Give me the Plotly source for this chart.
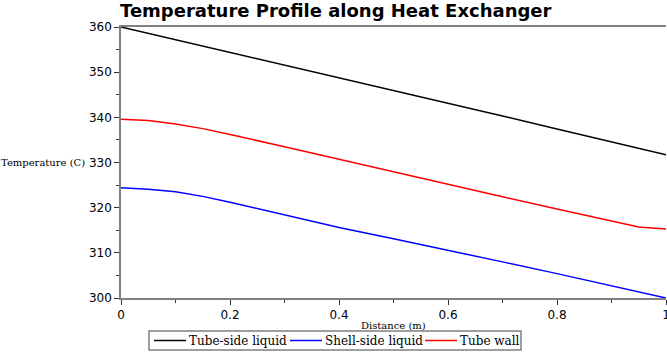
import plotly.graph_objects as go

distance = [0.0, 0.05, 0.1, 0.15, 0.2, 0.25, 0.3, 0.4, 0.5, 0.6, 0.7, 0.8, 0.9, 0.95, 1.0]
tube_side = [360.0, 358.6, 357.2, 355.8, 354.4, 353.0, 351.6, 348.8, 346.0, 343.1, 340.3, 337.4, 334.6, 333.1, 331.7]
shell_side = [324.4, 324.1, 323.5, 322.5, 321.2, 319.8, 318.3, 315.6, 313.1, 310.6, 308.0, 305.4, 302.7, 301.4, 300.0]
tube_wall = [339.6, 339.3, 338.5, 337.5, 336.2, 334.9, 333.5, 330.7, 327.9, 325.1, 322.4, 319.7, 317.0, 315.7, 315.3]
x_ticks = [0, 0.2, 0.4, 0.6, 0.8, 1]
x_ticklabels = ["0", "0.2", "0.4", "0.6", "0.8", "1"]
series_names = ["Tube-side liquid", "Shell-side liquid", "Tube wall"]
series_colors = ["black", "blue", "red"]
series_values = [tube_side, shell_side, tube_wall]

# plot-area geometry in pixels (for placing the hand-drawn legend box)
L, R, T, B, W, H = 121, 1, 27, 54, 667, 352
PW, PH = W - L - R, H - T - B
def px(x): return (x - L) / PW
def py(y): return (H - B - y) / PH

fig = go.Figure()
for name, vals, col in zip(series_names, series_values, series_colors):
    fig.add_trace(go.Scatter(x=distance, y=vals, mode="lines", name=name,
                             line=dict(color=col, width=1.5), showlegend=False))

axis_common = dict(showgrid=False, zeroline=False, showline=True, linecolor="#808080",
                   linewidth=1.5, ticks="outside", ticklen=5, tickwidth=1, tickcolor="#333",
                   automargin=False, ticklabeloverflow="allow",
                   tickfont=dict(family="DejaVu Sans", size=12, color="black"))

fig.update_xaxes(range=[0, 1], tickvals=x_ticks, ticktext=x_ticklabels, mirror=True,
                 minor=dict(dtick=0.1, ticks="outside", ticklen=3, tickcolor="#333"),
                 **axis_common)
fig.update_yaxes(range=[300, 360], dtick=10,
                 minor=dict(dtick=5, ticks="outside", ticklen=3, tickcolor="#333"),
                 **axis_common)

fig.add_annotation(text="Temperature (C)", xref="paper", yref="paper", x=px(-1), y=0.5,
                   xanchor="left", showarrow=False,
                   font=dict(family="DejaVu Serif", size=10, color="black"))
fig.add_annotation(text="Distance (m)", xref="paper", yref="paper", x=0.5, y=py(325),
                   xanchor="center", yanchor="middle", showarrow=False,
                   font=dict(family="DejaVu Serif", size=10, color="black"))

# legend (box, line samples, labels)
fig.add_shape(type="rect", xref="paper", yref="paper", x0=px(149), x1=px(521), y0=py(331), y1=py(350),
              line=dict(color="#808080", width=1.5), fillcolor="white", layer="above")
line_starts = [154, 290, 425]
text_starts = [188, 324, 459]
for name, col, ls, ts in zip(series_names, series_colors, line_starts, text_starts):
    fig.add_shape(type="line", xref="paper", yref="paper", x0=px(ls), x1=px(ls + 32),
                  y0=py(340.5), y1=py(340.5), line=dict(color=col, width=1.5), layer="above")
    fig.add_annotation(text=name, xref="paper", yref="paper", x=px(ts), y=py(340.5),
                       xanchor="left", yanchor="middle", showarrow=False, borderpad=0,
                       font=dict(family="DejaVu Serif", size=12, color="black"))

fig.update_layout(
    width=W, height=H,
    margin=dict(l=L, r=R, t=T, b=B),
    plot_bgcolor="white", paper_bgcolor="white",
    title=dict(text="<b>Temperature Profile along Heat Exchanger</b>", x=120/667, xanchor="left",
               yref="container", y=1 - 11/352, yanchor="middle",
               font=dict(family="DejaVu Sans", size=18, color="black")),
    showlegend=False,
)

fig.write_html("out.html")
